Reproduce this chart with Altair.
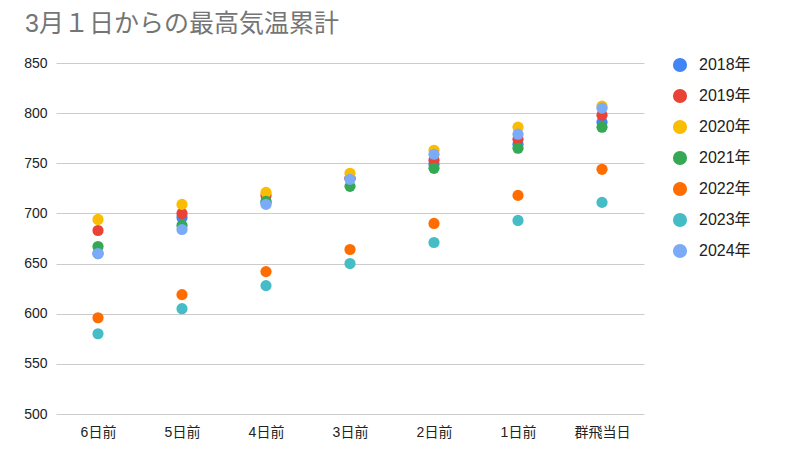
import altair as alt
import pandas as pd

categories = ["6日前", "5日前", "4日前", "3日前", "2日前", "1日前", "群飛当日"]
years = ["2018年", "2019年", "2020年", "2021年", "2022年", "2023年", "2024年"]
v2018 = [660, 696, 711, 735, 749, 769, 791]
v2019 = [683, 700, 718, 735, 753, 774, 798]
v2020 = [694, 709, 721, 740, 763, 786, 807]
v2021 = [667, 688, 712, 727, 745, 765, 786]
v2022 = [596, 619, 642, 664, 690, 718, 744]
v2023 = [580, 605, 628, 650, 671, 693, 711]
v2024 = [660, 684, 709, 734, 759, 779, 805]
colors = ["#4285F4", "#EA4335", "#FBBC04", "#34A853", "#FF6D01", "#46BDC6", "#7BAAF7"]

series = [v2018, v2019, v2020, v2021, v2022, v2023, v2024]
rows = []
for i, (yr, vals) in enumerate(zip(years, series)):
    for c, v in zip(categories, vals):
        rows.append({"day": c, "year": yr, "value": v, "ord": i})
df = pd.DataFrame(rows)

FONT = "Liberation Sans, Noto Sans CJK JP"

chart = alt.Chart(df).mark_circle(size=125, opacity=1).encode(
    x=alt.X("day:N", sort=categories, title=None,
            scale=alt.Scale(paddingInner=0, paddingOuter=0),
            axis=alt.Axis(labelAngle=0, ticks=False, domain=False, grid=False,
                          labelFontSize=14, labelColor="#222222", labelPadding=11,
                          labelFont=FONT)),
    y=alt.Y("value:Q", title=None,
            scale=alt.Scale(domain=[500, 850], nice=False, zero=False),
            axis=alt.Axis(values=[500, 550, 600, 650, 700, 750, 800, 850],
                          ticks=False, domain=False, gridColor="#cccccc",
                          labelFontSize=14, labelColor="#222222", labelPadding=9,
                          labelFont=FONT)),
    color=alt.Color("year:N", sort=years,
                    scale=alt.Scale(domain=years, range=colors),
                    legend=alt.Legend(title=None, orient="none", legendX=616, legendY=-6,
                                      symbolType="circle", symbolSize=200,
                                      symbolStrokeWidth=0, padding=0,
                                      labelFontSize=16, labelColor="#222222",
                                      labelFont=FONT, labelOffset=11, rowPadding=15)),
    order=alt.Order("ord:Q"),
).properties(
    width=588,
    height=351,
    title=alt.TitleParams("3月１日からの最高気温累計", anchor="start", frame="group",
                          dx=-31, dy=23, offset=22, baseline="alphabetic",
                          fontSize=25, fontWeight="normal", color="#757575", font=FONT),
    autosize=alt.AutoSizeParams(type="none"),
    padding={"left": 48, "top": 55, "right": 130, "bottom": 28},
).configure_view(stroke=None)

chart.save("out.html", embed_options={"renderer": "svg", "actions": False})
